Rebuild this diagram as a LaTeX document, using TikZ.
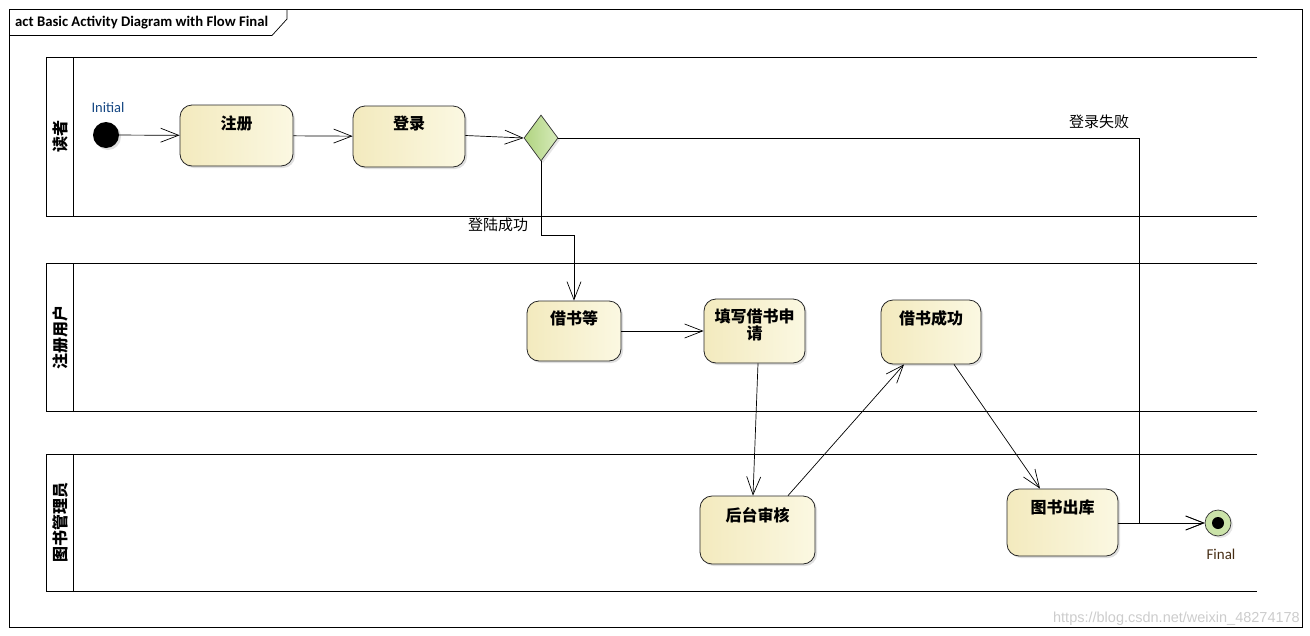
\documentclass[tikz,border=0pt]{standalone}
\usepackage{fontspec}
\setmainfont{Carlito}
\newfontfamily\cjk{Noto Sans CJK SC}
\newfontfamily\wm{Liberation Sans}
\usetikzlibrary{arrows.meta,shapes.geometric,shadows,calc}
\definecolor{actL}{RGB}{243,234,190}
\definecolor{actR}{RGB}{251,248,226}
\definecolor{decL}{RGB}{176,212,128}
\definecolor{decR}{RGB}{214,234,186}
\definecolor{initc}{RGB}{20,70,130}
\definecolor{finc}{RGB}{70,45,20}
\tikzset{
  act/.style={draw=black!85, line width=0.8pt, rounded corners=12pt, left color=actL, right color=actR,
    drop shadow={shadow xshift=2pt, shadow yshift=-2pt, opacity=0.25}, inner sep=0pt},
  acttext/.style={font=\cjk\bfseries\fontsize{16}{17}\selectfont, anchor=north, inner sep=0pt, align=center, text width=90pt},
  lanetitle/.style={font=\cjk\bfseries\fontsize{16}{17}\selectfont, rotate=90, inner sep=0pt},
  lane/.style={line width=1pt, draw=black},
  flow/.style={line width=0.7pt, -{Straight Barb[length=18pt,width=14pt,line width=0.7pt]}},
  guard/.style={font=\cjk\fontsize{15}{16}\selectfont, inner sep=0pt},
}
\begin{document}
\begin{tikzpicture}[x=1pt,y=-1pt]
\useasboundingbox (0,0) rectangle (1310,635);
% frame
\draw[line width=0.7pt] (9,9) rectangle (1302,627);
\draw[line width=0.7pt] (9,35.5) -- (272,35.5) -- (287,19) -- (287,9);
\node[anchor=base west, font=\bfseries\fontsize{14.7}{16}\selectfont, inner sep=0pt] (title) at (15,26.5) {act Basic Activity Diagram with Flow Final};
% lanes
\draw[lane] (1257,57) -- (46,57) -- (46,216) -- (1257,216);
\draw[lane] (73,57) -- (73,216);
\draw[lane] (1257,263) -- (46,263) -- (46,411) -- (1257,411);
\draw[lane] (73,263) -- (73,411);
\draw[lane] (1257,454) -- (46,454) -- (46,591) -- (1257,591);
\draw[lane] (73,454) -- (73,591);
\node[lanetitle] (l1) at (60,136.5) {读者};
\node[lanetitle] (l2) at (60,337) {注册用户};
\node[lanetitle] (l3) at (60,522.5) {图书管理员};
% initial
\node[circle, fill=black, minimum size=26pt, inner sep=0pt, drop shadow={shadow xshift=2pt, shadow yshift=-2pt, opacity=0.25}] (init) at (106,135) {};
\node[font=\fontsize{14.5}{15}\selectfont, text=initc, inner sep=0pt] (initlab) at (108,108) {Initial};
% actions
\node[act, minimum width=113pt, minimum height=61pt] (zc) at (236.5,135.5) {};
\node[acttext] (zct) at ([yshift=-10.5pt]zc.north) {注册};
\node[act, minimum width=112pt, minimum height=61pt] (dl) at (409,136.5) {};
\node[acttext] (dlt) at ([yshift=-10.5pt]dl.north) {登录};
\node[diamond, draw=black!80, line width=0.7pt, left color=decL, right color=decR, minimum width=34pt, minimum height=46pt, inner sep=0pt,
  drop shadow={shadow xshift=2pt, shadow yshift=-2pt, opacity=0.2}] (dia) at (541,138) {};
\node[act, minimum width=94pt, minimum height=60pt] (jsd) at (574,331) {};
\node[acttext] (jsdt) at ([yshift=-10pt]jsd.north) {借书等};
\node[act, minimum width=101pt, minimum height=64pt] (tx) at (754.5,331) {};
\node[acttext] (txt) at ([yshift=-10pt]tx.north) {填写借书申\\请};
\node[act, minimum width=100pt, minimum height=64pt] (cg) at (931,332) {};
\node[acttext] (cgt) at ([yshift=-11pt]cg.north) {借书成功};
\node[act, minimum width=115pt, minimum height=68pt] (ht) at (757.5,530) {};
\node[acttext] (htt) at ([yshift=-12pt]ht.north) {后台审核};
\node[act, minimum width=111pt, minimum height=67pt] (ck) at (1062.5,522.5) {};
\node[acttext] (ckt) at ([yshift=-11pt]ck.north) {图书出库};
% final
\node[circle, draw=black!80, line width=0.7pt, fill=decR!70!decL, minimum size=26pt, inner sep=0pt,
  drop shadow={shadow xshift=2pt, shadow yshift=-2pt, opacity=0.2}] (fin) at (1218,523) {};
\node[circle, fill=black, minimum size=12pt, inner sep=0pt] (findot) at (fin.center) {};
\node[font=\fontsize{15}{16}\selectfont, text=finc, inner sep=0pt] (finlab) at (1221,554) {Final};
% flows
\draw[flow] (init) -- (zc);
\draw[flow] (zc) -- (dl);
\draw[flow] ([yshift=1pt]dl.east) -- (dia.west);
\coordinate (succ) at (541,235);
\draw[flow] (dia.south) -- (succ) -| (jsd.north);
\node[guard] (succlab) at (498,225) {登陆成功};
\coordinate (fail) at (1139,138);
\draw[flow] (dia.east) -- (fail) |- (fin.west);
\node[guard] (faillab) at (1099,122) {登录失败};
\draw[flow] (jsd) -- (tx);
\draw[flow] ([xshift=3.5pt]tx.south) -- ([xshift=-4.5pt]ht.north);
\draw[flow] ([xshift=30.5pt]ht.north) -- ([xshift=-27pt]cg.south);
\draw[flow] ([xshift=23pt]cg.south) -- ([xshift=-22.5pt]ck.north);
\draw[flow] (ck.east |- fin.west) -- (fin.west);
% watermark
\node[anchor=base east, font=\wm\fontsize{14.5}{16}\selectfont, text=black!20, inner sep=0pt] (wmk) at (1300,622) {https://blog.csdn.net/weixin\_48274178};
\end{tikzpicture}
\end{document}
